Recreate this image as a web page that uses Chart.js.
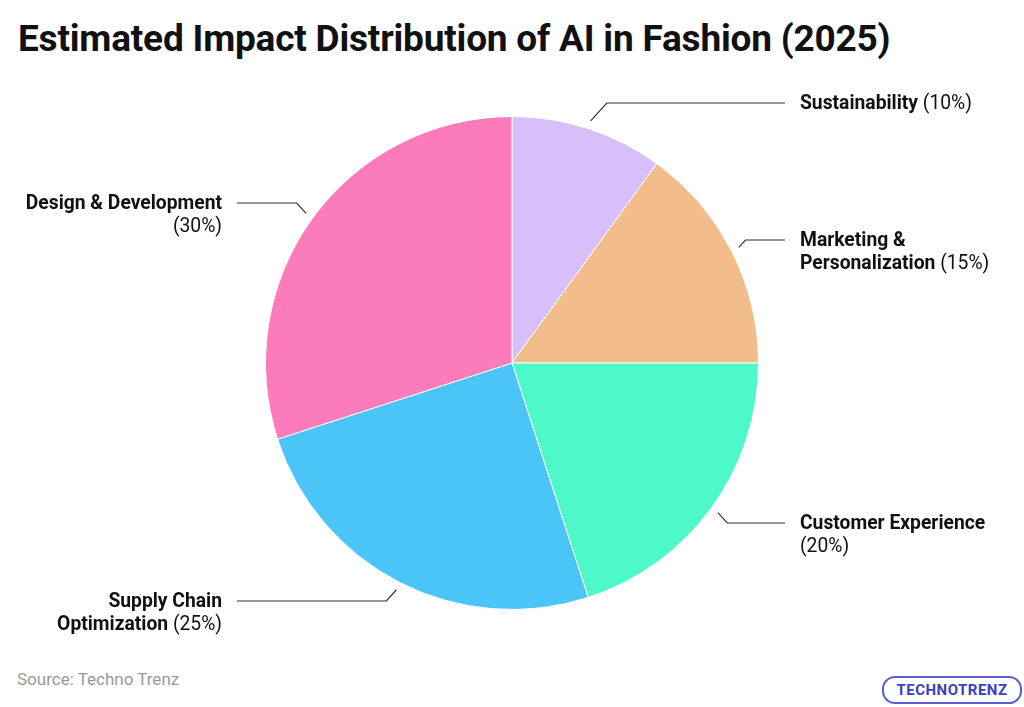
<!DOCTYPE html>
<html><head><meta charset="utf-8">
<script src="https://cdn.jsdelivr.net/npm/chart.js@4"></script>
<style>
body{margin:0;width:1024px;height:707px;background:#fff;position:relative;overflow:hidden;font-family:Roboto,"Noto Sans",sans-serif}
#t{position:absolute;left:18px;top:17px;font-size:37px;font-weight:bold;color:#111;letter-spacing:-0.2px}
#s{position:absolute;left:17px;top:669px;font-size:17px;color:#999}
#logo{position:absolute;left:882px;top:676px;width:136px;height:24px;border:2px solid #5a5fd6;border-radius:13px;font-size:15px;font-weight:bold;color:#3b3fc0;text-align:center;line-height:24px;letter-spacing:0.5px}
canvas{position:absolute;left:0;top:0}
</style></head><body>
<div id="t">Estimated Impact Distribution of AI in Fashion (2025)</div>
<div id="s">Source: Techno Trenz</div>
<div id="logo">TECHNOTRENZ</div>
<canvas id="c" width="1024" height="707"></canvas>
<script>
const categories=["Sustainability","Marketing & Personalization","Customer Experience","Supply Chain Optimization","Design & Development"];
const values=[10,15,20,25,30];
const colors=["#D8BEFB","#F2BC8B","#4DF9C8","#4BC4F7","#FB7BBB"];
const layout=[
 {l:[["Sustainability"," (10%)"]],side:1,y:103},
 {l:[["Marketing &",""],["Personalization"," (15%)"]],side:1,y:240},
 {l:[["Customer Experience",""],["","(20%)"]],side:1,y:523},
 {l:[["Supply Chain",""],["Optimization"," (25%)"]],side:-1,y:601},
 {l:[["Design & Development",""],["","(30%)"]],side:-1,y:203}
];
const F=19.3;
const lbl={id:"lbl",afterDraw(ch){
 const ctx=ch.ctx;const arcs=ch.getDatasetMeta(0).data;
 arcs.forEach((a,i)=>{
  const m=(a.startAngle+a.endAngle)/2,r=a.outerRadius+8;
  const x0=a.x+Math.cos(m)*r,y0=a.y+Math.sin(m)*r;
  const L=layout[i];const dy=L.y-y0;
  const x1=x0+L.side*Math.abs(dy)*0.9;
  const xe=L.side>0?785:237;
  ctx.save();ctx.strokeStyle="#333";ctx.lineWidth=1.2;ctx.beginPath();
  ctx.moveTo(x0,y0);ctx.lineTo(x1,L.y);ctx.lineTo(xe,L.y);ctx.stroke();
  ctx.textBaseline="middle";ctx.fillStyle="#111";
  L.l.forEach((ln,k)=>{
   const y=L.y+1+k*23.5;
   ctx.font="bold "+F+"px Roboto";const wb=ctx.measureText(ln[0]).width;
   ctx.font=F+"px Roboto";const wn=ctx.measureText(ln[1]).width;
   let x=L.side>0?800:222-wb-wn;
   ctx.font="bold "+F+"px Roboto";ctx.fillText(ln[0],x,y);
   ctx.font=F+"px Roboto";ctx.fillText(ln[1],x+wb,y);
  });
  ctx.restore();
 });
}};
new Chart(document.getElementById("c"),{type:"pie",
 data:{labels:categories,datasets:[{data:values,backgroundColor:colors,borderColor:"#fff",borderWidth:1}]},
 options:{responsive:false,animation:false,layout:{padding:{top:116,bottom:97,left:200,right:200}},
  plugins:{legend:{display:false},tooltip:{enabled:false}}},
 plugins:[lbl]});
</script></body></html>
